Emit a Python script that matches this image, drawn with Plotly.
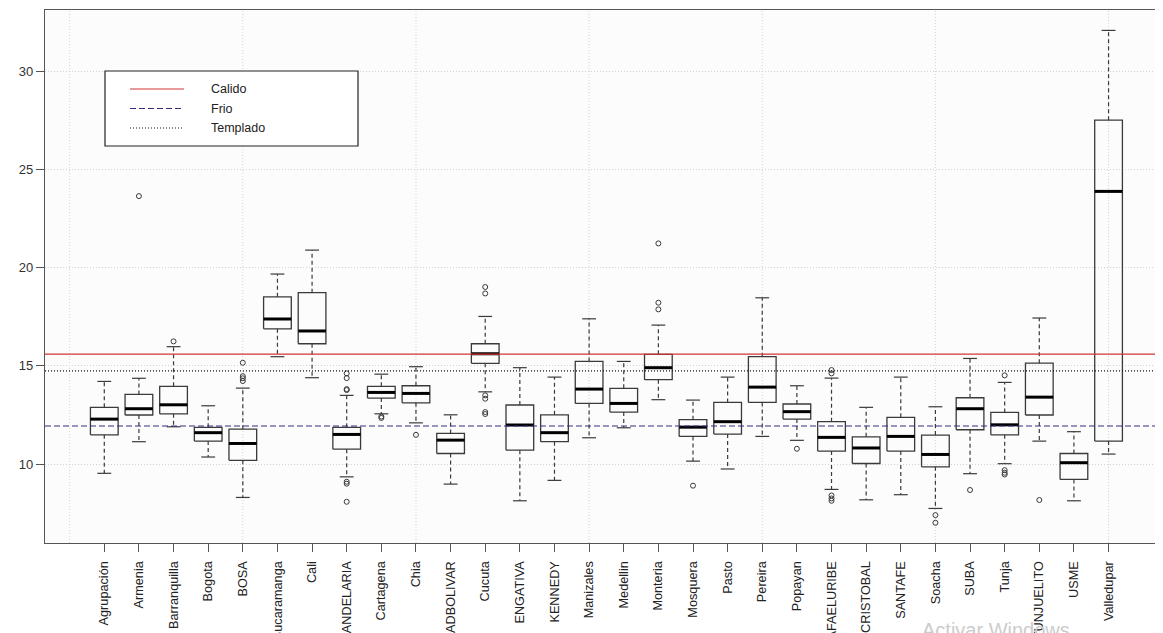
import plotly.graph_objects as go

categories = ["Agrupación", "Armenia", "Barranquilla", "Bogota", "BOSA", "Bucaramanga", "Cali",
              "CANDELARIA", "Cartagena", "Chia", "CIUDADBOLIVAR", "Cucuta", "ENGATIVA", "KENNEDY",
              "Manizales", "Medellin", "Monteria", "Mosquera", "Pasto", "Pereira", "Popayan",
              "RAFAELURIBE", "SANCRISTOBAL", "SANTAFE", "Soacha", "SUBA", "Tunja", "TUNJUELITO",
              "USME", "Valledupar"]
lower_whisker = [9.53, 11.14, 11.90, 10.36, 8.30, 15.47, 14.40, 9.35, 12.56, 12.10, 8.98, 13.68,
                 8.13, 9.17, 11.34, 11.85, 13.28, 10.15, 9.75, 11.41, 11.21, 8.71, 8.18, 8.44,
                 7.74, 9.51, 10.02, 11.17, 8.13, 10.51]
q1 = [11.49, 12.50, 12.56, 11.17, 10.19, 16.89, 16.13, 10.76, 13.36, 13.12, 10.54, 15.13,
      10.71, 11.14, 13.09, 12.65, 14.30, 11.41, 11.53, 13.14, 12.29, 10.66, 10.03, 10.66,
      9.86, 11.75, 11.49, 12.50, 9.22, 11.17]
median = [12.29, 12.82, 13.02, 11.60, 11.05, 17.39, 16.78, 11.51, 13.65, 13.60, 11.22, 15.62,
          11.99, 11.60, 13.82, 13.09, 14.91, 11.88, 12.16, 13.92, 12.67, 11.36, 10.82, 11.41,
          10.49, 12.82, 12.00, 13.41, 10.07, 23.89]
q3 = [12.89, 13.55, 13.96, 11.87, 11.78, 18.52, 18.73, 11.87, 13.96, 13.99, 11.56, 16.13,
      13.01, 12.51, 15.23, 13.86, 15.59, 12.26, 13.14, 15.47, 13.06, 12.16, 11.39, 12.38,
      11.48, 13.38, 12.63, 15.14, 10.54, 27.52]
upper_whisker = [14.21, 14.37, 15.98, 12.97, 13.87, 19.68, 20.90, 13.50, 14.58, 14.96, 12.51, 17.52,
                 14.91, 14.43, 17.40, 15.23, 17.08, 13.26, 14.43, 18.47, 13.99, 14.38, 12.89, 14.43,
                 12.92, 15.38, 14.16, 17.44, 11.65, 32.09]
outlier_category = ["Armenia", "Barranquilla",
                    "BOSA", "BOSA", "BOSA", "BOSA",
                    "CANDELARIA", "CANDELARIA", "CANDELARIA", "CANDELARIA", "CANDELARIA", "CANDELARIA", "CANDELARIA",
                    "Cartagena", "Cartagena", "Chia",
                    "Cucuta", "Cucuta", "Cucuta", "Cucuta", "Cucuta", "Cucuta",
                    "Monteria", "Monteria", "Monteria", "Mosquera", "Popayan",
                    "RAFAELURIBE", "RAFAELURIBE", "RAFAELURIBE", "RAFAELURIBE", "RAFAELURIBE",
                    "Soacha", "Soacha", "SUBA",
                    "Tunja", "Tunja", "Tunja", "Tunja", "TUNJUELITO"]
outlier_value = [23.65, 16.25,
                 14.23, 14.37, 14.48, 15.16,
                 8.08, 9.00, 9.10, 13.77, 13.82, 14.38, 14.62,
                 12.35, 12.42, 11.49,
                 12.55, 12.65, 13.33, 13.50, 18.69, 19.02,
                 17.88, 18.22, 21.24, 8.90, 10.78,
                 8.13, 8.25, 8.40, 14.62, 14.79,
                 7.01, 7.40, 8.68,
                 9.47, 9.56, 9.69, 14.52, 8.17]
reference_names = ["Calido", "Frio", "Templado"]
reference_values = [15.60, 11.94, 14.75]
reference_colors = ["#d23535", "#30307e", "#111111"]
reference_dash = ["solid", "6px,3px", "1px,2px"]
y_ticks = [10, 15, 20, 25, 30]

# The page body adds an 8px offset; the figure is sized so the plot lands where the reference has it.
OFF = 8
W, H = 1163 - OFF, 633 - OFF
ML, MR, MT, MB = 45 - OFF, 0, 10 - OFF, 90
X_RANGE = [-1.712, 30.572]
Y_RANGE = [5.98, 33.13]
BOX_HALF = 0.4
CAP_HALF = 0.2
EDGE = "#3a3a3a"

idx = {c: i for i, c in enumerate(categories)}

bx, by, mx, my, wx, wy, cx, cy = [], [], [], [], [], [], [], []
for i in range(len(categories)):
    l, r = i - BOX_HALF, i + BOX_HALF
    bx += [l, r, r, l, l, None]
    by += [q1[i], q1[i], q3[i], q3[i], q1[i], None]
    mx += [l, r, None]
    my += [median[i], median[i], None]
    wx += [i, i, None, i, i, None]
    wy += [q3[i], upper_whisker[i], None, q1[i], lower_whisker[i], None]
    cx += [i - CAP_HALF, i + CAP_HALF, None, i - CAP_HALF, i + CAP_HALF, None]
    cy += [upper_whisker[i], upper_whisker[i], None, lower_whisker[i], lower_whisker[i], None]

fig = go.Figure()
fig.add_trace(go.Scatter(x=wx, y=wy, mode="lines", line=dict(color=EDGE, width=1.2, dash="4px,3px"),
                         hoverinfo="skip", showlegend=False))
fig.add_trace(go.Scatter(x=cx, y=cy, mode="lines", line=dict(color=EDGE, width=1.2),
                         hoverinfo="skip", showlegend=False))
fig.add_trace(go.Scatter(x=bx, y=by, mode="lines", line=dict(color=EDGE, width=1.3),
                         hoverinfo="skip", showlegend=False))
fig.add_trace(go.Scatter(x=mx, y=my, mode="lines", line=dict(color="#000000", width=3),
                         hoverinfo="skip", showlegend=False))
fig.add_trace(go.Scatter(x=[idx[c] for c in outlier_category], y=outlier_value, mode="markers",
                         marker=dict(symbol="circle-open", size=5, color=EDGE, line=dict(width=1)),
                         hoverinfo="skip", showlegend=False))

shapes = []
# vertical dotted grid (R grid() at 0,5,...,30 in 1-based positions)
for g in range(0, 31, 5):
    shapes.append(dict(type="line", xref="x", yref="paper", x0=g - 1, x1=g - 1, y0=0, y1=1,
                       line=dict(color="#d3d3d3", width=1, dash="1px,2px"), layer="below"))
# reference lines
for v, col, d in zip(reference_values, reference_colors, reference_dash):
    shapes.append(dict(type="line", xref="paper", yref="y", x0=0, x1=1, y0=v, y1=v,
                       line=dict(color=col, width=1.2, dash=d), layer="above"))

# legend drawn in page-pixel coordinates of the reference
def px_x(p):
    return (p - OFF - ML) / (W - ML - MR)

def px_y(p):
    return (H + OFF - MB - p) / (H - MT - MB)

shapes.append(dict(type="rect", xref="paper", yref="paper", x0=px_x(105), x1=px_x(358),
                   y0=px_y(146), y1=px_y(71), line=dict(color="#222222", width=1.2),
                   fillcolor="#ffffff", layer="above"))
annotations = []
for k, (name, col, d) in enumerate(zip(reference_names, reference_colors, reference_dash)):
    yy = px_y(89 + k * 19.5)
    shapes.append(dict(type="line", xref="paper", yref="paper", x0=px_x(130), x1=px_x(184),
                       y0=yy, y1=yy, line=dict(color=col, width=1.2, dash=d), layer="above"))
    annotations.append(dict(xref="paper", yref="paper", x=px_x(209), y=yy, text=name,
                            showarrow=False, xanchor="left", yanchor="middle",
                            font=dict(size=12.5, color="#222222")))

annotations.append(dict(xref="paper", yref="paper", x=px_x(920), y=px_y(617), text="Activar Windows",
                        showarrow=False, xanchor="left", yanchor="top",
                        font=dict(size=20, color="#cccccc")))

fig.update_layout(
    width=W, height=H,
    margin=dict(l=ML, r=MR, t=MT, b=MB, autoexpand=False),
    paper_bgcolor="#ffffff", plot_bgcolor="#fcfcfc",
    font=dict(family="Liberation Sans, Arial, sans-serif", color="#333333"),
    shapes=shapes, annotations=annotations, showlegend=False,
    xaxis=dict(range=X_RANGE, tickmode="array", tickvals=list(range(len(categories))),
               ticktext=categories, tickangle=-90, ticks="outside", ticklen=8,
               tickcolor="#555555", tickwidth=1.2, showgrid=False, zeroline=False,
               showline=True, linecolor="#555555", linewidth=1.3, mirror=True,
               ticklabelstandoff=4,
               tickfont=dict(size=12.7, color="#222222"), automargin=False),
    yaxis=dict(range=Y_RANGE, tickmode="array", tickvals=y_ticks, ticks="outside", ticklen=8,
               tickcolor="#555555", tickwidth=1.2, showgrid=True, gridcolor="#d3d3d3",
               griddash="1px,2px", zeroline=False, showline=True, linecolor="#555555",
               linewidth=1.3, mirror=False, tickfont=dict(size=13, color="#333333"),
               automargin=False),
)

fig.write_html("out.html")
